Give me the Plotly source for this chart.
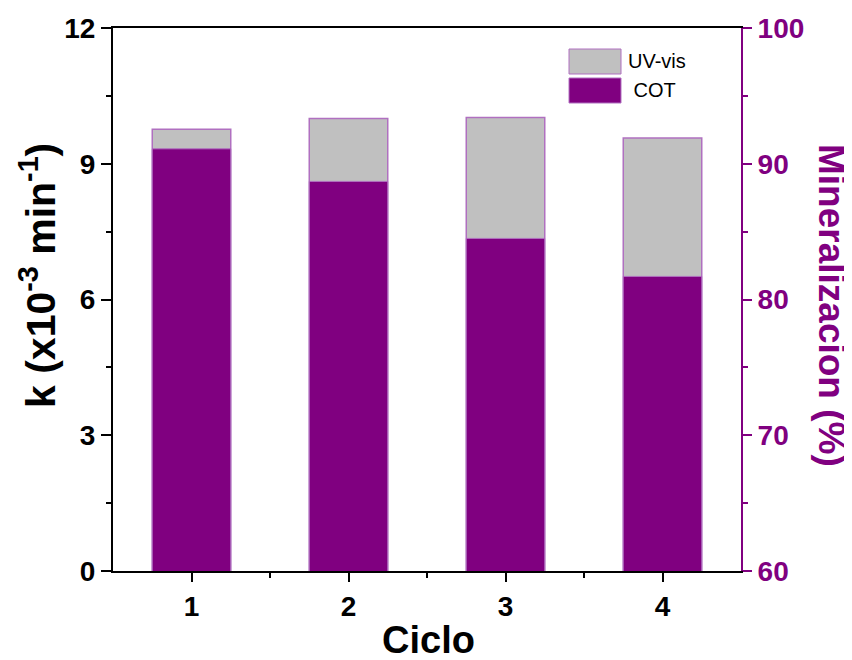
import plotly.graph_objects as go

ciclos = [1, 2, 3, 4]
k_uvvis = [9.76, 10.0, 10.02, 9.57]      # k (x10^-3 min^-1), left axis
mineral_cot = [91.1, 88.7, 84.5, 81.7]   # Mineralizacion (%), right axis

purple = "#800080"
gray = "#c0c0c0"
edge = "#b070c0"
font = "Liberation Sans, Arial, sans-serif"

# plot area in page pixels (left, top, right, bottom)
L, T, R, B = 113, 28, 741, 571
W, H = R - L, B - T
OFF = 8  # page body margin around the plot div


def px(x):
    return (x - L) / W


def py(y):
    return (B - y) / H


fig = go.Figure()
fig.add_trace(go.Bar(x=ciclos, y=k_uvvis, name="UV-vis", width=0.5,
                     marker=dict(color=gray, line=dict(color=edge, width=1.5)),
                     yaxis="y"))
fig.add_trace(go.Bar(x=ciclos, y=mineral_cot, name="COT", width=0.5,
                     marker=dict(color=purple, line=dict(color=edge, width=1)),
                     yaxis="y2"))

fig.update_layout(
    width=852 - OFF, height=660 - OFF,
    margin=dict(l=L - OFF, r=852 - R, t=T - OFF, b=660 - B),
    plot_bgcolor="white", paper_bgcolor="white",
    showlegend=False, barmode="overlay",
    font=dict(family=font, color="black"),
    xaxis=dict(range=[0.5, 4.5], tickvals=ciclos, showline=True, linecolor="black",
               linewidth=2, mirror=True, ticks="outside", ticklen=9, tickwidth=2,
               tickcolor="black", showgrid=False, zeroline=False, automargin=False,
               tickfont=dict(size=28, family=font, weight="bold"),
               minor=dict(tickvals=[1.5, 2.5, 3.5], ticks="outside", ticklen=5,
                          tickwidth=2, tickcolor="black")),
    yaxis=dict(range=[0, 12], tickvals=[0, 3, 6, 9, 12], showline=True,
               linecolor="black", linewidth=2, ticks="outside", ticklen=10,
               tickwidth=2, tickcolor="black", showgrid=False, zeroline=False,
               automargin=False,
               tickfont=dict(size=28, family=font, weight="bold"),
               minor=dict(tickvals=[1.5, 4.5, 7.5, 10.5], ticks="outside",
                          ticklen=5, tickwidth=2, tickcolor="black")),
    yaxis2=dict(range=[60, 100], tickvals=[60, 70, 80, 90, 100], overlaying="y",
                side="right", showline=True, linecolor=purple, linewidth=2,
                ticks="outside", ticklen=9, tickwidth=2, tickcolor=purple,
                showgrid=False, zeroline=False, automargin=False,
                tickfont=dict(size=28, family=font, weight="bold", color=purple),
                minor=dict(tickvals=[65, 75, 85, 95], ticks="outside", ticklen=5,
                           tickwidth=2, tickcolor=purple)),
)

# axis titles
fig.add_annotation(text="Ciclo", xref="paper", yref="paper", x=px(428), y=py(640),
                   xanchor="center", yanchor="middle", showarrow=False,
                   font=dict(size=38, family=font, weight="bold"))
fig.add_annotation(text="k (x10<sup>-3</sup> min<sup>-1</sup>)", xref="paper",
                   yref="paper", x=px(38), y=py(276), textangle=-90,
                   xanchor="center", yanchor="middle", showarrow=False,
                   font=dict(size=41, family=font, weight="bold"))
fig.add_annotation(text="Mineralizacion (%)", xref="paper", yref="paper",
                   x=px(831), y=py(305), textangle=90, xanchor="center",
                   yanchor="middle", showarrow=False,
                   font=dict(size=37, family=font, weight="bold", color=purple))

# legend patches drawn like the original boxes
legend_items = [("UV-vis", gray, 49), (" COT", purple, 78)]
for label, color, top in legend_items:
    fig.add_shape(type="rect", xref="paper", yref="paper",
                  x0=px(569), x1=px(621), y0=py(top + 25), y1=py(top),
                  fillcolor=color, line=dict(color=edge, width=1))
    fig.add_annotation(text=label, xref="paper", yref="paper",
                       x=px(626), y=py(top + 12), xanchor="left", yanchor="middle",
                       showarrow=False, font=dict(size=20, family=font))

fig.write_html("out.html")
